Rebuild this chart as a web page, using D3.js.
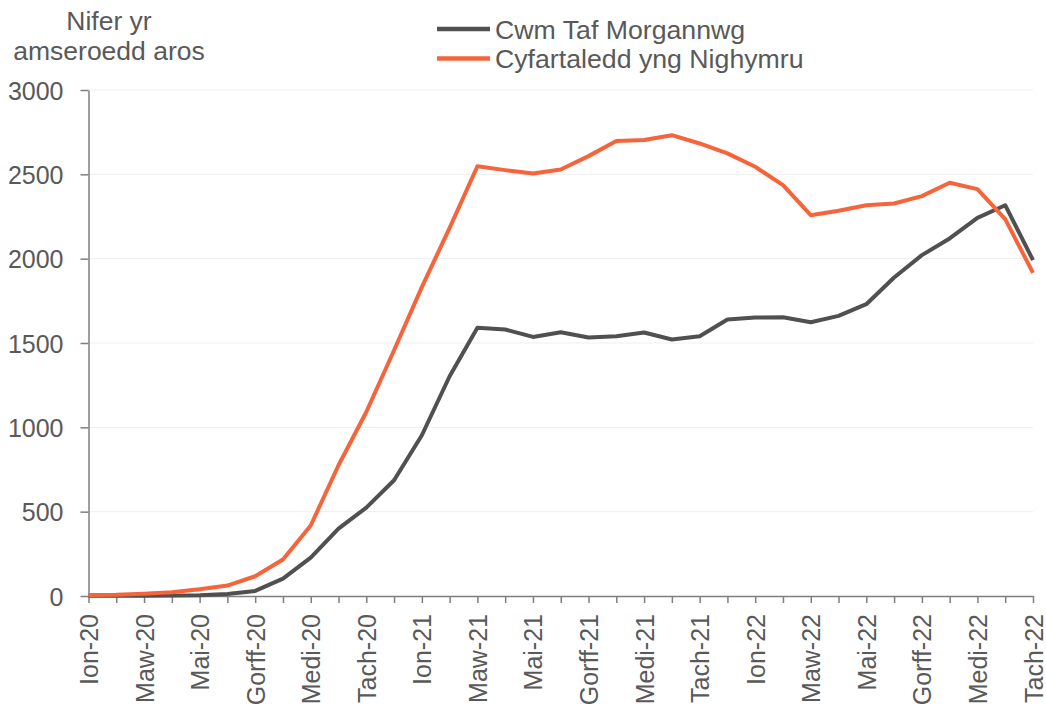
<!DOCTYPE html>
<html>
<head>
<meta charset="utf-8">
<script src="https://cdn.jsdelivr.net/npm/d3@7"></script>
<style>
    body { margin: 0; background: #fff; }
    text { font-family: "Liberation Sans", Arial, sans-serif; fill: #595959; }
</style>
</head>
<body>
<div id="chart"></div>
<script>

/**
* DATA
* */
const months = ["Ion-20", "Chwef-20", "Maw-20", "Ebr-20", "Mai-20", "Meh-20", "Gorff-20", "Awst-20", "Medi-20", "Hyd-20", "Tach-20", "Rhag-20",
    "Ion-21", "Chwef-21", "Maw-21", "Ebr-21", "Mai-21", "Meh-21", "Gorff-21", "Awst-21", "Medi-21", "Hyd-21", "Tach-21", "Rhag-21",
    "Ion-22", "Chwef-22", "Maw-22", "Ebr-22", "Mai-22", "Meh-22", "Gorff-22", "Awst-22", "Medi-22", "Hyd-22", "Tach-22"];

const cwmTaf = [2, 2, 2, 3, 5, 12, 30, 103, 228, 400, 524, 686, 953, 1303,
    1590, 1580, 1536, 1564, 1533, 1540, 1562, 1521, 1540, 1639, 1651, 1653,
    1623, 1661, 1730, 1888, 2021, 2120, 2242, 2317, 1991];

const cymru = [6, 8, 14, 22, 40, 62, 117, 216, 418, 775, 1091, 1457, 1831, 2183,
    2548, 2525, 2505, 2529, 2608, 2697, 2703, 2732, 2683, 2624, 2545, 2436,
    2258, 2284, 2317, 2327, 2371, 2450, 2412, 2234, 1916];

const yTicks = [0, 500, 1000, 1500, 2000, 2500, 3000];

const seriesNames = ["Cwm Taf Morgannwg", "Cyfartaledd yng Nighymru"];
const seriesColors = ["#505050", "#f5643a"];
const yTitle = ["Nifer yr", "amseroedd aros"];

/**
* CONSTANTS
* */
const width = 1046;
const height = 711;
const plotLeft = 88.5, plotRight = 1033, plotTop = 90, plotBottom = 596;

const svg = d3.select("#chart")
    .append("svg")
    .attr("width", width)
    .attr("height", height);

/**
* SCALES
* */
const x = d3.scalePoint()
    .domain(months)
    .range([plotLeft, plotRight]);

const y = d3.scaleLinear()
    .domain([0, 3000])
    .range([plotBottom, plotTop]);

// gridlines
svg.append("g")
    .selectAll("line")
    .data(yTicks.filter(d => d > 0))
    .join("line")
    .attr("x1", plotLeft)
    .attr("x2", plotRight)
    .attr("y1", d => y(d))
    .attr("y2", d => y(d))
    .attr("stroke", "#efefef")
    .attr("stroke-width", 1);

// y axis
const yAxis = svg.append("g")
    .attr("transform", `translate(${plotLeft},0)`)
    .call(d3.axisLeft(y).tickValues(yTicks).tickFormat(d3.format("d"))
        .tickSize(8).tickPadding(17).tickSizeOuter(0));

yAxis.select(".domain").attr("stroke", "#7f7f7f").attr("stroke-width", 1.5);
yAxis.selectAll(".tick line").attr("stroke", "#7f7f7f").attr("stroke-width", 1.5);
yAxis.selectAll(".tick text")
    .attr("font-size", 25)
    .attr("dy", "0.36em")
    .style("font-family", "'Liberation Sans', Arial, sans-serif")
    .attr("fill", "#595959");

// x axis
const xAxis = svg.append("g")
    .attr("transform", `translate(0,${plotBottom})`)
    .call(d3.axisBottom(x).tickSize(7).tickSizeOuter(0)
        .tickFormat((d, i) => i % 2 === 0 ? d : ""));

xAxis.select(".domain").attr("stroke", "#7f7f7f").attr("stroke-width", 1.5);
xAxis.selectAll(".tick line").attr("stroke", "#7f7f7f").attr("stroke-width", 1.5);
xAxis.selectAll(".tick text")
    .attr("font-size", 25)
    .style("font-family", "'Liberation Sans', Arial, sans-serif")
    .attr("fill", "#595959")
    .attr("text-anchor", "end")
    .attr("transform", "rotate(-90)")
    .attr("x", -18)
    .attr("y", 0)
    .attr("dy", "0.36em");

/**
* LINES
* */
const line = d3.line()
    .x((d, i) => x(months[i]))
    .y(d => y(d));

[cwmTaf, cymru].forEach((series, k) => {
    svg.append("path")
        .datum(series)
        .attr("fill", "none")
        .attr("stroke", seriesColors[k])
        .attr("stroke-width", 4)
        .attr("stroke-linejoin", "round")
        .attr("d", line);
});

/**
* Y AXIS TITLE
* */
svg.append("text")
    .attr("text-anchor", "middle")
    .attr("font-size", 26.5)
    .selectAll("tspan")
    .data(yTitle)
    .join("tspan")
    .attr("x", 109)
    .attr("y", (d, i) => 30 + i * 30)
    .text(d => d);

/**
* LEGEND
* */
const legend = svg.append("g")
    .selectAll("g")
    .data(seriesNames)
    .join("g")
    .attr("transform", (d, i) => `translate(437,${29 + i * 29.5})`);

legend.append("line")
    .attr("x1", 0)
    .attr("x2", 53)
    .attr("stroke", (d, i) => seriesColors[i])
    .attr("stroke-width", 4.5);

legend.append("text")
    .attr("x", 58)
    .attr("dy", "0.36em")
    .attr("font-size", 26.7)
    .text(d => d);

</script>
</body>
</html>
